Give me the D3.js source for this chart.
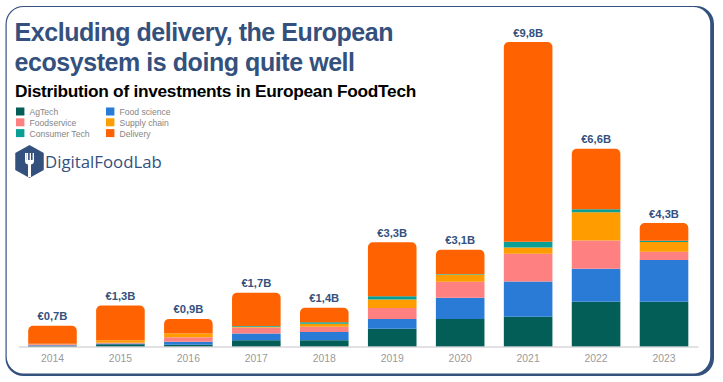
<!DOCTYPE html>
<html>
<head>
<meta charset="utf-8">
<script src="https://cdn.jsdelivr.net/npm/d3@7"></script>
<style>
  html, body { margin: 0; padding: 0; background: #fff; }
  svg { display: block; font-family: "Liberation Sans", Arial, sans-serif; }
</style>
</head>
<body>
<div id="chart"></div>
<script>
// Chart data, in billions of euros
const years = ["2014", "2015", "2016", "2017", "2018", "2019", "2020", "2021", "2022", "2023"];
const totalLabels = ["€0,7B", "€1,3B", "€0,9B", "€1,7B", "€1,4B", "€3,3B", "€3,1B", "€9,8B", "€6,6B", "€4,3B"];
const agTech = [0.02, 0.07, 0.06, 0.2, 0.2, 0.57, 0.89, 0.96, 1.44, 1.44];
const foodScience = [0.02, 0.03, 0.09, 0.22, 0.27, 0.32, 0.68, 1.14, 1.07, 1.35];
const foodservice = [0.03, 0.02, 0.15, 0.19, 0.17, 0.35, 0.52, 0.89, 0.91, 0.27];
const supplyChain = [0.01, 0.08, 0.12, 0.03, 0.09, 0.28, 0.23, 0.2, 0.91, 0.31];
const consumerTech = [0.01, 0, 0, 0.02, 0.05, 0.1, 0.02, 0.19, 0.1, 0.04];
const delivery = [0.58, 1.12, 0.47, 1.07, 0.47, 1.74, 0.78, 6.44, 1.95, 0.57];

const seriesNames = ["AgTech", "Food science", "Foodservice", "Supply chain", "Consumer Tech", "Delivery"];
const seriesValues = [agTech, foodScience, foodservice, supplyChain, consumerTech, delivery];
const seriesColors = ["#025e56", "#2a7bd6", "#ff8080", "#ff9d00", "#0a9f95", "#ff6200"];

// legend reads column by column in rows of three
const legendLeft = ["AgTech", "Foodservice", "Consumer Tech"];
const legendRight = ["Food science", "Supply chain", "Delivery"];

const width = 723;
const height = 382;
const navy = "#34517e";

const svg = d3.select("#chart").append("svg").attr("width", width).attr("height", height);

// *Card: the white panel sits off centre on a navy one, so right and bottom look thicker
svg.append("rect").attr("x", 5.5).attr("y", 6).attr("width", 708.5).attr("height", 370).attr("rx", 18).attr("fill", navy);
svg.append("rect").attr("x", 6.7).attr("y", 7).attr("width", 703.5).attr("height", 366.5).attr("rx", 17).attr("fill", "#fff");

// *Titles
svg.append("text").attr("x", 14.5).attr("y", 41).attr("font-size", 25).attr("letter-spacing", -0.44).attr("font-weight", 700).attr("fill", navy)
  .text("Excluding delivery, the European");
svg.append("text").attr("x", 14.5).attr("y", 71).attr("font-size", 25).attr("letter-spacing", -0.44).attr("font-weight", 700).attr("fill", navy)
  .text("ecosystem is doing quite well");
svg.append("text").attr("x", 15).attr("y", 97).attr("font-size", 17.3).attr("letter-spacing", -0.28).attr("font-weight", 700).attr("fill", "#000")
  .text("Distribution of investments in European FoodTech");

// *Legend
const color = d3.scaleOrdinal().domain(seriesNames).range(seriesColors);
function legendColumn(names, swatchX) {
  const row = svg.append("g").selectAll("g").data(names).join("g")
    .attr("transform", (d, i) => "translate(" + swatchX + "," + (107.5 + i * 10.8) + ")");
  row.append("rect").attr("width", 8.4).attr("height", 8).attr("fill", (d) => color(d));
  row.append("text").attr("x", 13.5).attr("y", 7.4).attr("font-size", 8.6).attr("fill", "#858585").text((d) => d);
}
legendColumn(legendLeft, 16);
legendColumn(legendRight, 106);

// *Logo
const logo = svg.append("g").attr("transform", "translate(16,146)");
logo.append("path").attr("d", "M13.5 0 L27 7.5 L27 23.5 L13.5 31 L0 23.5 L0 7.5 Z")
  .attr("fill", navy).attr("stroke", navy).attr("stroke-width", 1.5).attr("stroke-linejoin", "round");
logo.append("path").attr("d", "M9 7 V15 Q9 18 12 18.5 V31 H15 V18.5 Q18 18 18 15 V7 H16.6 V14 H15 V7 H13.7 V14 H12.1 V7 H10.6 V14 H10.4 V7 Z").attr("fill", "#fff");
svg.append("text").attr("x", 45).attr("y", 168).attr("font-family", "'Open Sans', sans-serif").attr("font-size", 16.8).attr("fill", navy)
  .text("DigitalFoodLab");

// *Setting the ranges
const margin = { left: 18.5, right: 25, bottom: 35.5 };
const baseline = height - margin.bottom;
const x = d3.scaleBand().domain(years).range([margin.left, width - margin.right]).paddingInner(0.285).paddingOuter(0.1425);
const y = d3.scaleLinear().domain([0, 10]).range([baseline, baseline - 310]);

const rows = years.map((year, i) => {
  const row = { year: year };
  seriesNames.forEach((name, s) => { row[name] = seriesValues[s][i]; });
  return row;
});
const stacked = d3.stack().keys(seriesNames)(rows);

// only the delivery segment on top of each bar has rounded corners
function topRounded(d) {
  const x0 = x(d.data.year), x1 = x0 + x.bandwidth(), yTop = y(d[1]), yBottom = y(d[0]);
  const r = Math.min(5, yBottom - yTop);
  const p = d3.path();
  p.moveTo(x0, yBottom);
  p.lineTo(x0, yTop + r);
  p.arcTo(x0, yTop, x0 + r, yTop, r);
  p.lineTo(x1 - r, yTop);
  p.arcTo(x1, yTop, x1, yTop + r, r);
  p.lineTo(x1, yBottom);
  p.closePath();
  return p.toString();
}

const layers = svg.append("g").selectAll("g").data(stacked).join("g").attr("fill", (d) => color(d.key));
layers.selectAll("path")
  .data((d) => d.map((v) => Object.assign(v, { key: d.key })))
  .join("path")
  .attr("d", (d) => {
    if (d.key === "Delivery") return topRounded(d);
    return d3.line()([[x(d.data.year), y(d[0])], [x(d.data.year), y(d[1])], [x(d.data.year) + x.bandwidth(), y(d[1])], [x(d.data.year) + x.bandwidth(), y(d[0])]]) + "Z";
  });

// *Total labels above bars
const topLayer = stacked[stacked.length - 1];
svg.append("g").selectAll("text").data(topLayer).join("text")
  .attr("x", (d) => x(d.data.year) + x.bandwidth() / 2)
  .attr("y", (d) => y(d[1]) - 5.5)
  .attr("text-anchor", "middle")
  .attr("font-size", 11.2)
  .attr("font-weight", 700)
  .attr("fill", navy)
  .text((d, i) => totalLabels[i]);

// *x Axis
const xAxis = svg.append("g").attr("transform", "translate(0," + baseline + ")")
  .call(d3.axisBottom(x).tickSize(0).tickPadding(8));
xAxis.select(".domain").attr("stroke", "#b5b5bd").attr("stroke-width", 0.8);
xAxis.selectAll("text").attr("font-family", "'Liberation Sans', sans-serif").attr("font-size", 10.4).attr("fill", "#9a9a9a");
</script>
</body>
</html>
